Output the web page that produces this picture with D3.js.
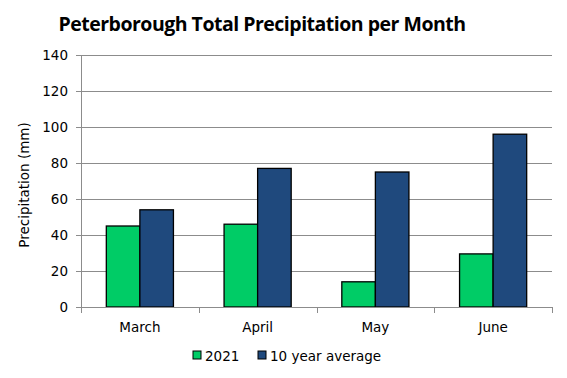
<!DOCTYPE html>
<html>
<head>
<meta charset="utf-8">
<script src="https://cdn.jsdelivr.net/npm/d3@7"></script>
<style>
  body { margin: 0; background: #fff; }
  text { font-family: "DejaVu Sans", Verdana, sans-serif; fill: #000; }
</style>
</head>
<body>
<div id="chart"></div>
<script>
"use strict";

// data
var months = ["March", "April", "May", "June"];
var series = ["2021", "10 year average"];
var values2021 = [45, 46, 14, 29.5];
var valuesAvg = [54, 77, 75, 96];
var yTicks = [0, 20, 40, 60, 80, 100, 120, 140];
var colors = ["#00cc66", "#1f497d"];

var W = 567, H = 378;
var margin = { top: 55, right: 15, bottom: 71, left: 81 },
    width = W - margin.left - margin.right,
    height = H - margin.top - margin.bottom;

var svg = d3.select("#chart")
            .append("svg")
            .attr("width", W)
            .attr("height", H);

var g = svg.append("g")
           .attr("transform", "translate(" + margin.left + "," + margin.top + ")");

var x = d3.scaleBand()
          .domain(months)
          .range([0, width])
          .paddingInner(0)
          .paddingOuter(0);

var inner = d3.scaleBand()
              .domain(series)
              .range([0, x.bandwidth() * 0.57])
              .padding(0);

var y = d3.scaleLinear()
          .domain([0, 140])
          .range([height, 0]);

// gridlines
g.selectAll(".grid")
 .data(yTicks.slice(1))
 .enter()
 .append("line")
 .attr("x1", 0)
 .attr("x2", width)
 .attr("y1", function (d) { return Math.round(y(d)) + 0.5; })
 .attr("y2", function (d) { return Math.round(y(d)) + 0.5; })
 .attr("stroke", "#8c8c8c")
 .attr("stroke-width", 1);

// y axis
var yAxis = d3.axisLeft(y)
              .tickValues(yTicks)
              .tickSize(5)
              .tickPadding(8);
var ya = g.append("g").call(yAxis);
ya.select(".domain").attr("stroke", "#8c8c8c");
ya.selectAll(".tick line").attr("stroke", "#8c8c8c");
ya.selectAll("text").style("font-size", "13.5px");

// bars
var groups = g.selectAll(".month")
              .data(months)
              .enter()
              .append("g")
              .attr("transform", function (d) {
                return "translate(" + (x(d) + x.bandwidth() * 0.215) + ",0)";
              });

groups.selectAll("rect")
      .data(function (d, i) {
        return [
          { s: series[0], v: values2021[i] },
          { s: series[1], v: valuesAvg[i] }
        ];
      })
      .enter()
      .append("rect")
      .attr("x", function (d) { return inner(d.s); })
      .attr("width", inner.bandwidth())
      .attr("y", function (d) { return y(d.v); })
      .attr("height", function (d) { return height - y(d.v); })
      .attr("fill", function (d, i) { return colors[i]; })
      .attr("stroke", "#000")
      .attr("stroke-width", 1.3);

// x axis
var xa = g.append("g").attr("transform", "translate(0," + height + ")");
xa.append("line")
  .attr("x1", 0).attr("x2", width)
  .attr("y1", 0.5).attr("y2", 0.5)
  .attr("stroke", "#8c8c8c");
xa.selectAll(".xtick")
  .data(d3.range(months.length + 1))
  .enter()
  .append("line")
  .attr("x1", function (d) { return Math.round(d * x.bandwidth()) + 0.5; })
  .attr("x2", function (d) { return Math.round(d * x.bandwidth()) + 0.5; })
  .attr("y1", 0)
  .attr("y2", 6)
  .attr("stroke", "#8c8c8c");
xa.selectAll(".xlabel")
  .data(months)
  .enter()
  .append("text")
  .attr("x", function (d) { return x(d) + x.bandwidth() / 2; })
  .attr("y", 25)
  .attr("text-anchor", "middle")
  .style("font-size", "13.5px")
  .text(function (d) { return d; });

// y label
svg.append("text")
   .attr("transform", "translate(29,185) rotate(-90)")
   .attr("text-anchor", "middle")
   .style("font-size", "13.5px")
   .text("Precipitation (mm)");

// title
svg.append("text")
   .attr("x", 262)
   .attr("y", 31)
   .attr("text-anchor", "middle")
   .style("font-family", "'Open Sans', sans-serif")
   .style("font-weight", "700")
   .style("font-size", "19.5px")
   .style("letter-spacing", "-0.5px")
   .text("Peterborough Total Precipitation per Month");

// legend
var legend = svg.append("g").attr("transform", "translate(193,351)");
var lx = [0, 65];
series.forEach(function (s, i) {
  legend.append("rect")
        .attr("x", lx[i]).attr("y", 0)
        .attr("width", 8).attr("height", 8)
        .attr("fill", colors[i])
        .attr("stroke", "#000");
  legend.append("text")
        .attr("x", lx[i] + 12).attr("y", 10)
        .style("font-size", "13.5px")
        .text(s);
});
</script>
</body>
</html>
